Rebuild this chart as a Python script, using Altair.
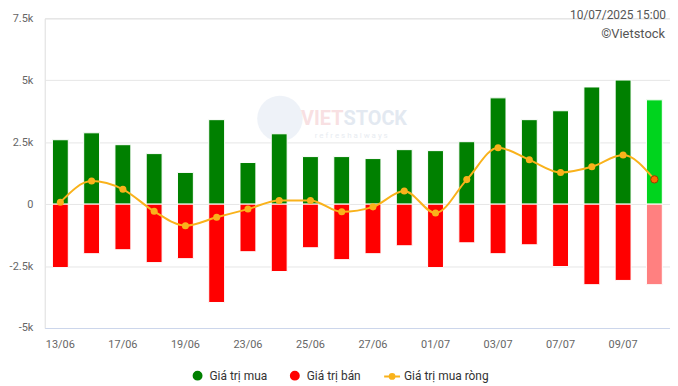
import altair as alt
import pandas as pd

dates = ["13/06", "16/06", "17/06", "18/06", "19/06", "20/06", "23/06", "24/06", "25/06", "26/06",
         "27/06", "30/06", "01/07", "02/07", "03/07", "04/07", "07/07", "08/07", "09/07", "10/07"]
buy = [2600, 2880, 2400, 2040, 1280, 3410, 1680, 2840, 1920, 1920,
       1840, 2200, 2160, 2520, 4290, 3410, 3770, 4730, 5010, 4210]
sell = [-2560, -2000, -1840, -2360, -2200, -3970, -1920, -2720, -1760, -2240,
        -2000, -1680, -2560, -1560, -2000, -1640, -2520, -3250, -3080, -3250]
net = [80, 930, 600, -290, -870, -530, -200, 150, 150, -310,
       -110, 530, -360, 990, 2280, 1790, 1280, 1510, 1980, 1000]
shown_labels = ["13/06", "17/06", "19/06", "23/06", "25/06", "27/06", "01/07", "03/07", "07/07", "09/07"]
series_names = ["Giá trị mua", "Giá trị bán", "Giá trị mua ròng"]
y_ticks = [-5000, -2500, 0, 2500, 5000, 7500]

GREEN, RED, AMBER = "#008000", "#FF0000", "#F9B21B"
last = dates[-1]

df_bars = pd.DataFrame({
    "date": dates * 2,
    "series": [series_names[0]] * len(dates) + [series_names[1]] * len(dates),
    "value": buy + sell,
})
df_net = pd.DataFrame({"date": dates, "series": series_names[2], "value": net})

X = alt.X("date:N", sort=dates, title=None,
          axis=alt.Axis(values=shown_labels, labelAngle=0, ticks=False, grid=False,
                        domainColor="#ccd6eb", labelColor="#666666", labelFontSize=11,
                        labelPadding=11))
Y = alt.Y("value:Q", title=None,
          scale=alt.Scale(domain=[-5000, 7500], nice=False, zero=False),
          axis=alt.Axis(values=y_ticks, domain=False, ticks=False, gridColor="#e6e6e6",
                        labelColor="#666666", labelFontSize=11, labelPadding=12,
                        labelExpr="datum.value == 0 ? '0' : (datum.value / 1000) + 'k'"))

line_shape = "M-2,0H2M-0.6,0A0.6,0.6,0,1,0,0.6,0A0.6,0.6,0,1,0,-0.6,0Z"
is_net = f"datum.value == '{series_names[2]}'"
legend = alt.Legend(
    title=None, orient="none", legendX=148, legendY=354, direction="horizontal",
    symbolSize=64, labelFontSize=12, labelColor="#333333",
    labelFont="Roboto", columnPadding=19, labelOffset=6, symbolOpacity=1,
    symbolType={"expr": f"{is_net} ? '{line_shape}' : 'circle'"},
    symbolStrokeColor={"expr": f"{is_net} ? '{AMBER}' : 'transparent'"},
    symbolStrokeWidth=2,
    symbolFillColor={"expr": f"datum.value == '{series_names[0]}' ? '{GREEN}' : datum.value == '{series_names[1]}' ? '{RED}' : '{AMBER}'"},
)
color = alt.Color("series:N", scale=alt.Scale(domain=series_names, range=[GREEN, RED, AMBER]),
                  legend=legend)

base = alt.Chart(df_bars)
bars = base.mark_bar(size=16, stroke="white", strokeWidth=1).encode(
    x=X, y=Y, color=color).transform_filter(f"datum.date != '{last}'")
last_bars = base.mark_bar(size=16, stroke="white", strokeWidth=1).encode(
    x=X, y=Y,
    color=alt.condition(f"datum.series == '{series_names[0]}'", alt.value("#00D41E"), alt.value("#FF8080")),
).transform_filter(f"datum.date == '{last}'")

netc = alt.Chart(df_net)
line = netc.mark_line(interpolate="monotone", strokeWidth=2).encode(x=X, y=Y, color=color)
points = netc.mark_circle(size=50, opacity=1).encode(x=X, y=Y, color=color).transform_filter(
    f"datum.date != '{last}'")
last_point = netc.mark_point(filled=True, size=55, fill="#FF6A00", stroke="#9A3C00",
                             strokeWidth=1, opacity=1).encode(x=X, y=Y).transform_filter(
    f"datum.date == '{last}'")

one = alt.Data(values=[{}])
wm_circle = alt.Chart(one).mark_circle(size=2100, color="#dde6f1", opacity=0.5).encode(
    x=alt.value(237), y=alt.value(101))
wm_viet = alt.Chart(one).mark_text(align="right", baseline="middle", fontSize=20, fontWeight="bold",
                                   color="#f8e0e2", font="Roboto").encode(
    x=alt.value(301), y=alt.value(101), text=alt.value("VIET"))
wm_stock = alt.Chart(one).mark_text(align="left", baseline="middle", fontSize=20, fontWeight="bold",
                                    color="#e3e9f1", font="Roboto").encode(
    x=alt.value(301), y=alt.value(101), text=alt.value("STOCK"))
wm_sub = alt.Chart(one).mark_text(align="left", baseline="middle", fontSize=8,
                                  color="#e8ecf1", font="Roboto").encode(
    x=alt.value(272), y=alt.value(119), text=alt.value("r e f r e s h    a l w a y s"))
stamp = alt.Chart(one).mark_text(align="right", baseline="middle", fontSize=12,
                                 color="#555555", font="Roboto").encode(
    x=alt.value(626), y=alt.value(-3), text=alt.value("10/07/2025 15:00"))
brand = alt.Chart(one).mark_text(align="right", baseline="middle", fontSize=13,
                                 color="#555555", font="Roboto").encode(
    x=alt.value(625), y=alt.value(16), text=alt.value("©Vietstock"))

chart = alt.layer(
    wm_circle, wm_viet, wm_stock, wm_sub, bars, last_bars, line, points, last_point, stamp, brand
).properties(
    width=630, height=312,
    autosize=alt.AutoSizeParams(type="none"),
    padding={"left": 37, "top": 9, "right": 0, "bottom": 57},
).configure_view(stroke=None).configure(font="Roboto")

chart.save("out.html", embed_options={"renderer": "svg", "actions": False})
